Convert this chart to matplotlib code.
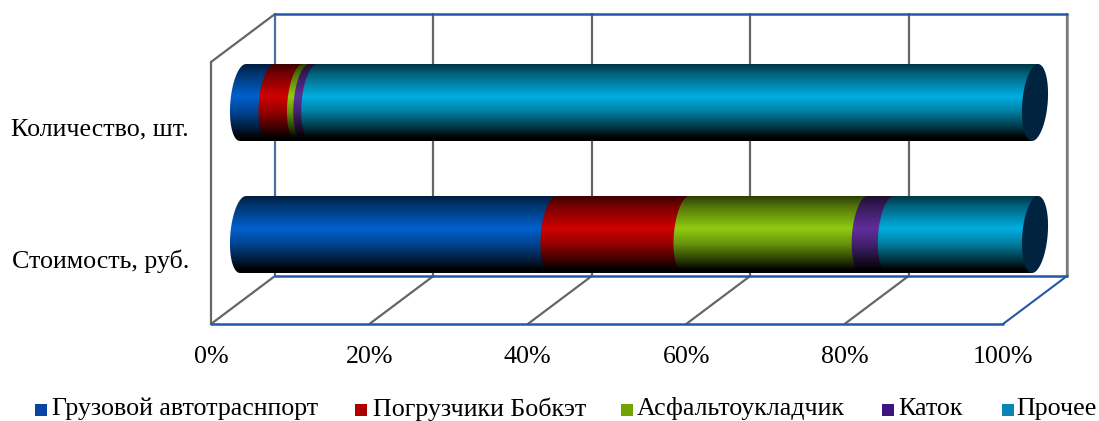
import numpy as np
import matplotlib
matplotlib.use('Agg')
import matplotlib.pyplot as plt
from matplotlib.colors import LinearSegmentedColormap
from matplotlib.patches import Polygon

# Data (percent shares)
categories = ['Количество, шт.', 'Стоимость, руб.']
series = ['Грузовой автотраснпорт', 'Погрузчики Бобкэт', 'Асфальтоукладчик', 'Каток', 'Прочее']
quantity = [3.6, 3.6, 0.8, 1.0, 91.0]
cost = [39.2, 16.8, 22.5, 3.3, 18.2]
ticks = [0, 20, 40, 60, 80, 100]
tick_labels = ['0%', '20%', '40%', '60%', '80%', '100%']

colors = ['#0060CC', '#D00000', '#90CC10', '#602E9C', '#00AEE0']
legend_colors = ['#0A45A6', '#AE0000', '#72A400', '#3E1480', '#0A85B5']
cap_color = '#00243F'
grid_color = '#666666'
frame_color = '#2358A8'

# Geometry, in pixels of the 1099x421 picture
W, H = 1099, 421
FRONT_X = 211
PX_PER_PCT = 7.92
DX, DY = 64, 48
FRONT_BOTTOM = 324
BACK_TOP = 14
BAR_X0 = 32 / PX_PER_PCT   # bars start halfway through the depth
BAR_TOP = [64, 196]
BAR_H = 77
CAP_A = 12.7 / PX_PER_PCT
CAP_SKEW = 3 / PX_PER_PCT
FONT_SIZE = 18.7

dx_pct = DX / PX_PER_PCT
back_bottom = FRONT_BOTTOM - DY
front_top = BACK_TOP + DY

plt.rcParams['font.family'] = ['Liberation Serif', 'DejaVu Serif']

fig = plt.figure(figsize=(W / 100, H / 100), dpi=100)
ax = fig.add_axes([0, 0, 1, 1])
ax.set_xlim(-FRONT_X / PX_PER_PCT, (W - FRONT_X) / PX_PER_PCT)
ax.set_ylim(H, 0)
ax.axis('off')


def ellipse_edge(cx, top, t):
    # tilted end of the cylinder, t runs over the angle
    cy = top + BAR_H / 2
    return cx + CAP_A * np.cos(t) - CAP_SKEW * np.sin(t), cy + BAR_H / 2 * np.sin(t)


def gradient_cmap(color):
    c = np.array(matplotlib.colors.to_rgb(color))
    stops = [(0.0, c * 0.3), (0.12, c * 0.55), (0.42, c), (0.62, c * 0.72),
             (0.85, c * 0.25), (0.96, c * 0.0), (1.0, c * 0.0)]
    return LinearSegmentedColormap.from_list('cyl', stops)


def draw_segment(start, end, top, color, z):
    # left side bulges over the previous segment, right side is a straight cut
    t = np.linspace(np.pi / 2, 3 * np.pi / 2, 40)
    ex, ey = ellipse_edge(start, top, t)
    xs = np.r_[ex, end + CAP_SKEW, end - CAP_SKEW]
    ys = np.r_[ey, top, top + BAR_H]
    outline = Polygon(np.c_[xs, ys], closed=True, facecolor='none', edgecolor='none', transform=ax.transData)
    ax.add_patch(outline)
    grad = np.linspace(0, 1, 256).reshape(-1, 1)
    im = ax.imshow(grad, cmap=gradient_cmap(color), aspect='auto', zorder=z,
                   extent=(start - 3, end + 3, top + BAR_H, top), interpolation='bilinear')
    im.set_clip_path(outline)


def frame_line(xs, ys, color, lw=1.6):
    ax.plot(xs, ys, color=color, lw=lw, solid_capstyle='round', zorder=1)


# Walls and floor
for t in ticks:
    frame_line([t + dx_pct, t + dx_pct], [BACK_TOP, back_bottom], '#4A6F9C' if t == 0 else grid_color)
    if t < 100:
        frame_line([t, t + dx_pct], [FRONT_BOTTOM, back_bottom], grid_color)
frame_line([100 + dx_pct, 100 + dx_pct], [BACK_TOP, back_bottom], '#7F7F7F', 1.8)
frame_line([0, 0], [front_top, FRONT_BOTTOM], grid_color)
frame_line([0, dx_pct], [front_top, BACK_TOP], grid_color)
frame_line([dx_pct, 100 + dx_pct], [BACK_TOP, BACK_TOP], frame_color, 1.8)
frame_line([dx_pct, 100 + dx_pct], [back_bottom, back_bottom], frame_color, 1.8)
frame_line([0, 100], [FRONT_BOTTOM, FRONT_BOTTOM], frame_color, 1.8)
frame_line([100, 100 + dx_pct], [FRONT_BOTTOM, back_bottom], frame_color, 1.5)

# Bars
for top, values in zip(BAR_TOP, [quantity, cost]):
    left = 0
    for i, v in enumerate(values):
        draw_segment(BAR_X0 + left, BAR_X0 + left + v, top, colors[i], 3 + i)
        left += v
    t = np.linspace(0, 2 * np.pi, 80)
    ex, ey = ellipse_edge(BAR_X0 + 100, top, t)
    ax.add_patch(Polygon(np.c_[ex, ey], closed=True, facecolor=cap_color, edgecolor='none', zorder=9))

# Axis labels
for t, lab in zip(ticks, tick_labels):
    ax.text(t, 357, lab, ha='center', va='center', fontsize=FONT_SIZE, color='black')
for top, cat in zip(BAR_TOP, categories):
    ax.text((189 - FRONT_X) / PX_PER_PCT, top + 65, cat, ha='right', va='center',
            fontsize=FONT_SIZE, color='black')

# Legend
legend_sq = [35, 355, 621, 882, 1002]
legend_txt = [52, 373, 637, 898, 1016]
for sq, tx, lab, c in zip(legend_sq, legend_txt, series, legend_colors):
    x0 = (sq - FRONT_X) / PX_PER_PCT
    ax.add_patch(plt.Rectangle((x0, 404), 12 / PX_PER_PCT, 12, facecolor=c, edgecolor='none'))
    ax.text((tx - FRONT_X) / PX_PER_PCT, 409, lab, ha='left', va='center', fontsize=FONT_SIZE, color='black')

fig.savefig('out.png', dpi=100)
